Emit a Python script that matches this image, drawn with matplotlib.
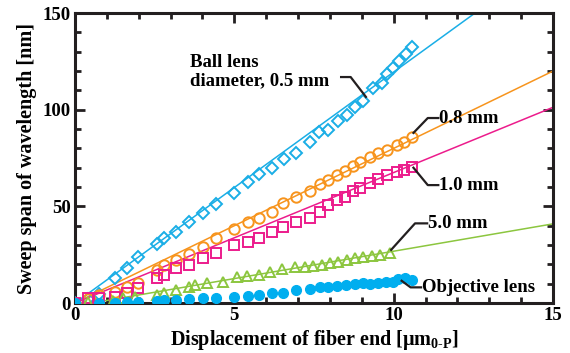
import matplotlib.pyplot as plt
from matplotlib.ticker import MultipleLocator
import numpy as np

plt.rcParams['font.family'] = ['Liberation Serif', 'DejaVu Serif']
plt.rcParams['font.weight'] = 'bold'
plt.rcParams['mathtext.fontset'] = 'custom'
plt.rcParams['mathtext.rm'] = 'Liberation Serif:bold'

# ball lens 0.5 mm (diamonds)
x05 = [0, 0.42, 0.76, 1.26, 1.64, 1.99, 2.56, 2.79, 3.17, 3.58, 4.03, 4.41, 4.99, 5.44,
       5.78, 6.17, 6.56, 6.93, 7.37, 7.67, 7.95, 8.24, 8.53, 8.79, 9.05, 9.34, 9.62, 9.78,
       9.97, 10.18, 10.39, 10.56]
y05 = [0, 2.1, 4.5, 13.1, 18.0, 23.6, 30.5, 33.5, 36.9, 41.8, 46.4, 51.1, 57.1, 62.4,
       66.7, 69.7, 74.3, 77.4, 83.1, 88.3, 89.5, 94.2, 97.3, 101.6, 104.5, 111.0, 113.7, 118.3,
       121.4, 125.2, 128.6, 132.6]

# ball lens 0.8 mm (circles)
x08 = [0, 0.42, 0.76, 1.26, 1.62, 1.99, 2.56, 2.79, 3.17, 3.58, 4.03, 4.41, 4.99, 5.44,
       5.78, 6.17, 6.54, 6.93, 7.37, 7.69, 7.95, 8.21, 8.47, 8.71, 8.94, 9.26, 9.52, 9.78,
       10.09, 10.33, 10.56]
y08 = [0, 1.9, 4.1, 5.8, 8.4, 10.2, 17.1, 19.7, 22.2, 25.3, 29.1, 33.8, 38.1, 41.7,
       43.8, 47.3, 51.6, 55.0, 58.1, 61.6, 63.8, 66.0, 68.5, 71.0, 73.0, 75.7, 77.4, 79.2,
       81.7, 83.4, 86.0]

# ball lens 1.0 mm (squares)
x10 = [0, 0.42, 0.76, 1.26, 1.62, 1.99, 2.56, 2.79, 3.17, 3.58, 4.03, 4.41, 4.99, 5.44,
       5.78, 6.17, 6.54, 6.93, 7.37, 7.69, 7.95, 8.21, 8.47, 8.71, 8.94, 9.26, 9.52, 9.78,
       10.09, 10.33, 10.56]
y10 = [0, 2.7, 2.4, 3.3, 5.0, 7.6, 12.8, 14.5, 17.9, 19.7, 23.1, 26.0, 29.8, 31.8,
       33.6, 36.8, 39.3, 41.8, 43.8, 47.2, 50.7, 53.3, 55.0, 58.1, 59.6, 61.9, 64.0, 66.2,
       67.9, 68.8, 70.5]

# ball lens 5.0 mm (triangles)
x50 = [0, 0.42, 1.2, 1.52, 1.88, 2.56, 2.79, 3.17, 3.58, 3.77, 4.13, 4.65, 5.07, 5.39,
       5.77, 6.12, 6.49, 6.9, 7.22, 7.48, 7.74, 8.0, 8.26, 8.53, 8.79, 9.05, 9.31, 9.57, 9.88]
y50 = [0, 0.5, 1.0, 2.4, 2.9, 4.2, 5.0, 6.7, 8.4, 9.3, 10.5, 11.0, 13.4, 13.9,
       14.4, 16.2, 17.8, 18.7, 18.8, 18.9, 19.7, 20.5, 21.4, 22.2, 23.1, 24.0, 24.5, 24.8, 25.7]

# objective lens (filled dots)
xobj = [0, 0.76, 1.26, 1.62, 1.99, 2.56, 2.79, 3.17, 3.58, 4.03, 4.41, 4.99, 5.44, 5.78,
        6.17, 6.54, 6.93, 7.37, 7.69, 7.95, 8.21, 8.5, 8.79, 9.05, 9.26, 9.52, 9.76, 9.99,
        10.15, 10.35, 10.56]
yobj = [0, 0, 0, 0.3, 0.5, 1.2, 1.4, 1.8, 2.2, 2.6, 2.8, 3.3, 3.8, 4.1,
        5.0, 5.3, 6.5, 7.2, 8.2, 8.4, 9.0, 9.3, 10.0, 10.4, 9.8, 10.5, 11.0, 11.0,
        12.3, 13.1, 12.0]

# fitted lines: slope, intercept, start
fit_slope = [11.95, 8.0, 6.75, 2.83]
fit_icpt = [0, 0, 0, -1.5]
fit_x0 = [0, 0, 0, 0.5]

c_blue = '#1aaee6'
c_orange = '#f7941d'
c_pink = '#ec1c8c'
c_green = '#8cc63f'
c_dot = '#00aeef'
colors = [c_blue, c_orange, c_pink, c_green]

fig = plt.figure(figsize=(5.7, 3.53), dpi=100)
ax = fig.add_axes([0.1316, 0.1416, 0.8386, 0.8214])

for s, b, x0, c in zip(fit_slope, fit_icpt, fit_x0, colors):
    xx = np.array([x0, 15])
    ax.plot(xx, s * xx + b, color=c, lw=1.1, zorder=2)

mk = dict(ls='none', mfc='none', mew=1.4, zorder=3)
ax.plot(x05, y05, 'D', ms=6, mec=c_blue, **mk)
ax.plot(x08, y08, 'o', ms=7.5, mec=c_orange, **mk)
ax.plot(x10, y10, 's', ms=6.5, mec=c_pink, **mk)
ax.plot(x50, y50, '^', ms=7.5, mec=c_green, **mk)
ax.plot(xobj, yobj, 'o', ms=7, color=c_dot, ls='none', zorder=3)

# annotations with leader lines
fs = 13.5
kw = dict(color='#231f20', lw=1.6, zorder=4, clip_on=False)
ax.text(3.6, 119.5, 'Ball lens\ndiameter, 0.5 mm', fontsize=fs, fontweight='bold',
        ha='left', va='center', linespacing=1.1)
ax.plot([8.35, 8.65, 9.13], [116.9, 116.9, 106.6], **kw)

ax.text(11.42, 95.7, '0.8 mm', fontsize=fs, fontweight='bold', ha='left', va='center')
ax.plot([11.4, 11.07, 10.62], [95.7, 95.7, 88.0], **kw)

ax.text(11.42, 61.0, '1.0 mm', fontsize=fs, fontweight='bold', ha='left', va='center')
ax.plot([11.4, 11.07, 10.62], [61.0, 61.0, 70.0], **kw)

ax.text(11.08, 41.2, '5.0 mm', fontsize=fs, fontweight='bold', ha='left', va='center')
ax.plot([11.05, 10.67, 9.92], [41.2, 41.2, 27.5], **kw)

ax.text(10.88, 8.1, 'Objective lens', fontsize=fs, fontweight='bold', ha='left', va='center')
ax.plot([10.25, 10.53, 10.86], [11.5, 8.1, 8.1], **kw)

ax.set_xlim(0, 15)
ax.set_ylim(0, 150)
ax.xaxis.set_major_locator(MultipleLocator(5))
ax.xaxis.set_minor_locator(MultipleLocator(1))
ax.yaxis.set_major_locator(MultipleLocator(50))
ax.yaxis.set_minor_locator(MultipleLocator(10))
ax.tick_params(which='both', direction='in', top=True, right=True, width=2,
               labelsize=13.5, pad=3, color='#231f20')
ax.tick_params(which='major', length=7)
ax.tick_params(which='minor', length=4.5)
for sp in ax.spines.values():
    sp.set_linewidth(2.2)
    sp.set_color('#231f20')

ax.set_xlabel(r'Displacement of fiber end [μm$_{\mathrm{0\text{-}P}}$]', fontsize=14.5,
              fontweight='bold', labelpad=3)
ax.set_ylabel('Sweep span of wavelength [nm]', fontsize=14.5, fontweight='bold', labelpad=4)

fig.savefig('out.png', dpi=100)
